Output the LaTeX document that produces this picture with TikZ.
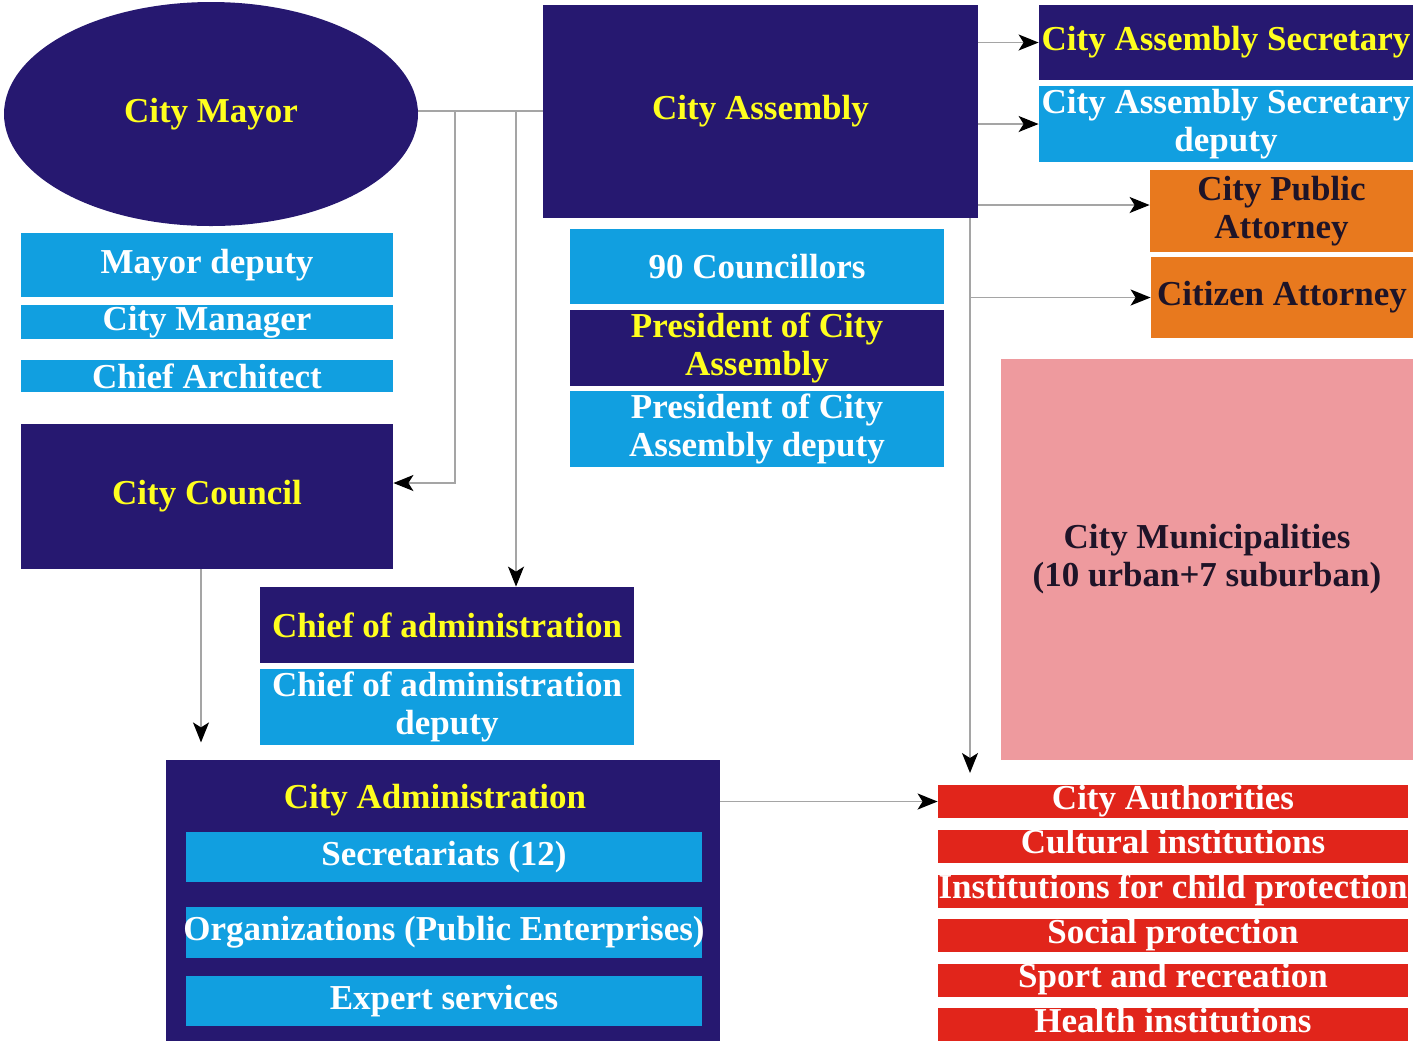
\documentclass[tikz,border=0pt]{standalone}
\usepackage{fontspec}
\setmainfont{Liberation Serif}
\usetikzlibrary{arrows.meta,shapes.geometric}

\definecolor{navy}{RGB}{38,24,112}
\definecolor{skyblue}{RGB}{17,159,224}
\definecolor{attorneyorange}{RGB}{232,121,30}
\definecolor{instred}{RGB}{225,37,27}
\definecolor{munipink}{RGB}{238,154,158}
\definecolor{titleyellow}{RGB}{255,255,30}
\definecolor{darktext}{RGB}{30,20,40}
\definecolor{linegray}{RGB}{165,165,165}

\tikzset{
  boxtext/.style={font=\bfseries\fontsize{17.5}{19}\selectfont, align=center, inner sep=0pt},
  navybox/.style={boxtext, fill=navy, text=titleyellow},
  bluebox/.style={boxtext, fill=skyblue, text=white},
  orangebox/.style={boxtext, fill=attorneyorange, text=darktext},
  redbox/.style={boxtext, fill=instred, text=white, minimum width=235pt, minimum height=16.5pt,
    text height=12pt, text depth=4.5pt},
  pinkbox/.style={boxtext, fill=munipink, text=darktext},
  conn/.style={draw=linegray, line width=0.8pt},
  arr/.style={conn, -{Stealth[length=10pt,width=8pt,inset=2.5pt,color=black]}}
}

\begin{document}
\begin{tikzpicture}[x=0.5pt,y=-0.5pt]
    \useasboundingbox (0,0) rectangle (1414,1041);

    % Mayor and the boxes below
    \node[ellipse, navybox, minimum width=207pt, minimum height=112pt] (mayor) at (211,114) {City Mayor};
    \node[bluebox, minimum width=186pt, minimum height=32pt] (mdeputy) at (207,265) {Mayor deputy};
    \node[bluebox, minimum width=186pt, minimum height=17pt] (manager) at (207,322) {City Manager};
    \node[bluebox, minimum width=186pt, minimum height=16pt] (architect) at (207,376) {Chief Architect};
    \node[navybox, minimum width=186pt, minimum height=72.5pt] (council) at (207,496.5) {City Council};

    % Assembly column
    \node[navybox, minimum width=217.5pt, minimum height=106.5pt] (assembly) at (760.5,111.5) {City Assembly};
    \node[bluebox, minimum width=187pt, minimum height=37.5pt] (councillors) at (757,266.5) {90 Councillors};
    \node[navybox, minimum width=187pt, minimum height=38pt] (president) at (757,348) {President of City\\Assembly};
    \node[bluebox, minimum width=187pt, minimum height=38pt] (presdeputy) at (757,429) {President of City\\Assembly deputy};

    % Secretary and attorneys
    \node[navybox, minimum width=187pt, minimum height=37.5pt] (secretary) at (1226,42.5) {City Assembly Secretary};
    \node[bluebox, minimum width=187pt, minimum height=38pt] (secdeputy) at (1226,124) {City Assembly Secretary\\deputy};
    \node[orangebox, minimum width=131.5pt, minimum height=41pt] (attorney) at (1281.5,211) {City Public\\Attorney};
    \node[orangebox, minimum width=131pt, minimum height=40.5pt] (citizen) at (1282,297.5) {Citizen Attorney};

    % Municipalities
    \node[pinkbox, minimum width=206pt, minimum height=200.5pt] (muni) at (1207,559.5) {City Municipalities\\(10 urban+7 suburban)};

    % Chief of administration
    \node[navybox, minimum width=187pt, minimum height=38pt] (chief) at (447,625) {Chief of administration};
    \node[bluebox, minimum width=187pt, minimum height=38pt] (chiefdeputy) at (447,707) {Chief of administration\\deputy};

    % City Administration
    \node[navybox, minimum width=277pt, minimum height=140.5pt] (admin) at (443,900.5) {};
    \node[boxtext, text=titleyellow] (admintitle) at (435,800) {City Administration};
    \node[bluebox, minimum width=258pt, minimum height=25pt] (secretariats) at (444,857) {Secretariats (12)};
    \node[bluebox, minimum width=258pt, minimum height=25.5pt] (organizations) at (444,932.5) {\makebox[0pt]{Organizations (Public Enterprises)}};
    \node[bluebox, minimum width=258pt, minimum height=25pt] (expert) at (444,1001) {Expert services};

    % Institutions
    \foreach \nm/\yy/\txt in {auth/801.5/City Authorities, cultural/846/Cultural institutions,
        child/891/Institutions for child protection, social/935.5/Social protection,
        sport/980/Sport and recreation, health/1024.5/Health institutions} {
        \node[redbox] (\nm) at (1173,\yy) {\txt};
    }

    % Connectors from the mayor
    \coordinate (mj1) at (455,111);
    \coordinate (mj2) at (516,111);
    \draw[conn] (mayor.east |- mj1) -- (assembly.west |- mj1);
    \draw[arr] (mj1) |- ([yshift=6.75pt]council.east);
    \draw[arr] (mj2) -- (mj2 |- chief.north);
    \draw[arr] ([xshift=-3pt]council.south) -- ++(0,173);

    % Connectors from the assembly
    \draw[arr] (assembly.east |- secretary.west) -- (secretary.west);
    \draw[arr] (assembly.east |- secdeputy.west) -- (secdeputy.west);
    \draw[arr] ([yshift=3pt]assembly.east |- attorney.west) -- ([yshift=3pt]attorney.west);
    \coordinate (aj) at (970,218);
    \draw[arr] (aj) -- (970,773);
    \draw[arr] (aj |- citizen.west) -- (citizen.west);

    % Administration to institutions
    \draw[arr] (admin.east |- auth.west) -- (auth.west);

\end{tikzpicture}
\end{document}
